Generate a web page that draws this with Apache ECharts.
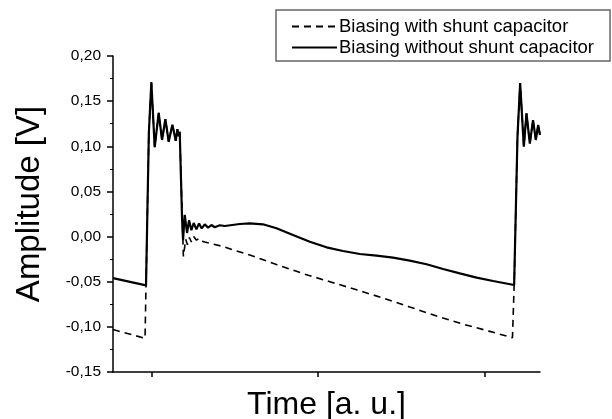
<!DOCTYPE html>
<html>
<head>
<meta charset="utf-8">
<script src="https://cdn.jsdelivr.net/npm/echarts@6/dist/echarts.min.js"></script>
<style>
  html, body { margin: 0; padding: 0; background: #fff; }
  #chart { width: 612px; height: 419px; }
</style>
</head>
<body>
<div id="chart"></div>
<script>
// time in arbitrary units (ticks at 1, 2, 3), amplitude in volts
const withShuntTime = [
  0.770, 0.962, 0.968, 0.985, 1.000, 1.020, 1.044, 1.064, 1.084, 1.104, 1.126, 1.146,
  1.156, 1.164, 1.170, 1.174, 1.192, 1.206, 1.216, 1.228, 1.240, 1.254, 1.270, 1.286,
  1.302, 1.320, 1.350, 1.430, 1.510, 1.590, 1.750, 1.909, 2.070, 2.230, 2.389, 2.549,
  2.710, 2.869, 3.029, 3.165, 3.175, 3.195, 3.211, 3.233, 3.249, 3.269, 3.288, 3.305,
  3.319, 3.330
]
const withShuntAmp = [
  -0.103, -0.1127, -0.054, 0.115, 0.171, 0.099, 0.137, 0.107, 0.130, 0.105, 0.124, 0.106,
  0.119, 0.111, 0.116, 0.114, -0.022, -0.003, -0.009, -0.001, -0.006, 0.000, -0.004, -0.002,
  -0.005, -0.006, -0.0075, -0.011, -0.016, -0.0204, -0.031, -0.041, -0.050, -0.059, -0.068, -0.078,
  -0.088, -0.097, -0.105, -0.112, -0.0536, 0.111, 0.170, 0.0996, 0.1365, 0.103, 0.129, 0.107,
  0.1236, 0.1125
]

const withoutShuntTime = [
  0.770, 0.968, 0.985, 1.000, 1.020, 1.044, 1.064, 1.084, 1.104, 1.126, 1.146, 1.156,
  1.164, 1.170, 1.174, 1.184, 1.190, 1.200, 1.214, 1.226, 1.240, 1.254, 1.270, 1.286,
  1.302, 1.320, 1.340, 1.360, 1.380, 1.410, 1.440, 1.530, 1.590, 1.669, 1.750, 1.849,
  1.950, 2.050, 2.149, 2.250, 2.350, 2.449, 2.549, 2.650, 2.749, 2.849, 2.950, 3.049,
  3.175, 3.195, 3.211, 3.233, 3.249, 3.269, 3.288, 3.305, 3.319, 3.330
]
const withoutShuntAmp = [
  -0.046, -0.054, 0.115, 0.171, 0.099, 0.137, 0.107, 0.130, 0.105, 0.124, 0.106, 0.119,
  0.111, 0.116, 0.114, 0.020, -0.004, 0.024, 0.004, 0.018, 0.007, 0.015, 0.008, 0.0146,
  0.009, 0.0136, 0.0099, 0.0128, 0.0103, 0.0125, 0.0117, 0.0139, 0.0147, 0.0136, 0.0092, 0.0017,
  -0.0057, -0.0119, -0.016, -0.0193, -0.0212, -0.0234, -0.0267, -0.0307, -0.0359, -0.0407, -0.0455, -0.0492,
  -0.0536, 0.111, 0.170, 0.0996, 0.1365, 0.103, 0.129, 0.107, 0.1236, 0.1125
]

const timeTicks = [1, 2, 3]
const seriesNames = ['Biasing with shunt capacitor', 'Biasing without shunt capacitor']

const FONT = '"Liberation Sans", Arial, sans-serif'

const zip = (xs, ys) => xs.map((x, i) => [x, ys[i]])

const chart = echarts.init(document.getElementById('chart'))

const option = {
  animation: false,
  backgroundColor: '#fff',
  textStyle: { fontFamily: FONT, color: '#000' },
  legend: {
    left: 276,
    top: 10,
    orient: 'vertical',
    itemWidth: 45,
    itemHeight: 12,
    itemGap: 2,
    padding: [7, 16, 4, 15],
    borderColor: '#666',
    borderWidth: 1.5,
    itemStyle: { opacity: 0 },
    textStyle: { fontFamily: FONT, fontSize: 18.5, lineHeight: 18, color: '#000', padding: [0, 0, 0, -3] },
    data: seriesNames
  },
  grid: {
    left: 113,
    right: 72,
    top: 56,
    bottom: 47,
    outerBoundsMode: 'none'
  },
  xAxis: {
    type: 'value',
    min: 0.77,
    max: 3.33,
    name: 'Time [a. u.]',
    nameLocation: 'middle',
    nameGap: 17,
    nameTextStyle: { fontFamily: FONT, fontSize: 32, color: '#000', verticalAlign: 'top' },
    axisLine: { onZero: false, lineStyle: { color: '#000', width: 1.5 } },
    axisTick: { customValues: timeTicks, length: 5, lineStyle: { color: '#000', width: 1.5 } },
    axisLabel: { show: false },
    splitLine: { show: false }
  },
  yAxis: {
    type: 'value',
    min: -0.15,
    max: 0.2,
    interval: 0.05,
    name: 'Amplitude [V]',
    nameLocation: 'middle',
    nameGap: 67,
    nameRotate: 90,
    nameTextStyle: { fontFamily: FONT, fontSize: 33, color: '#000', padding: [0, 0, 0, 20] },
    axisLine: { show: true, onZero: false, lineStyle: { color: '#000', width: 1.5 } },
    axisTick: { show: true, length: 6, lineStyle: { color: '#000', width: 1.5 } },
    minorTick: { show: true, splitNumber: 2, length: 3, lineStyle: { color: '#000', width: 1 } },
    axisLabel: {
      fontFamily: FONT,
      fontSize: 15.5,
      color: '#000',
      margin: 12,
      formatter: (v) => v.toFixed(2).replace('.', ',')
    },
    splitLine: { show: false }
  },
  series: [
    {
      name: seriesNames[0],
      type: 'line',
      data: zip(withShuntTime, withShuntAmp),
      showSymbol: false,
      symbol: 'none',
      lineStyle: { color: '#000', width: 1.6, type: [7, 5] },
      itemStyle: { color: '#000' }
    },
    {
      name: seriesNames[1],
      type: 'line',
      data: zip(withoutShuntTime, withoutShuntAmp),
      showSymbol: false,
      symbol: 'none',
      lineStyle: { color: '#000', width: 2.2 },
      itemStyle: { color: '#000' }
    }
  ]
}

chart.setOption(option)
</script>
</body>
</html>
